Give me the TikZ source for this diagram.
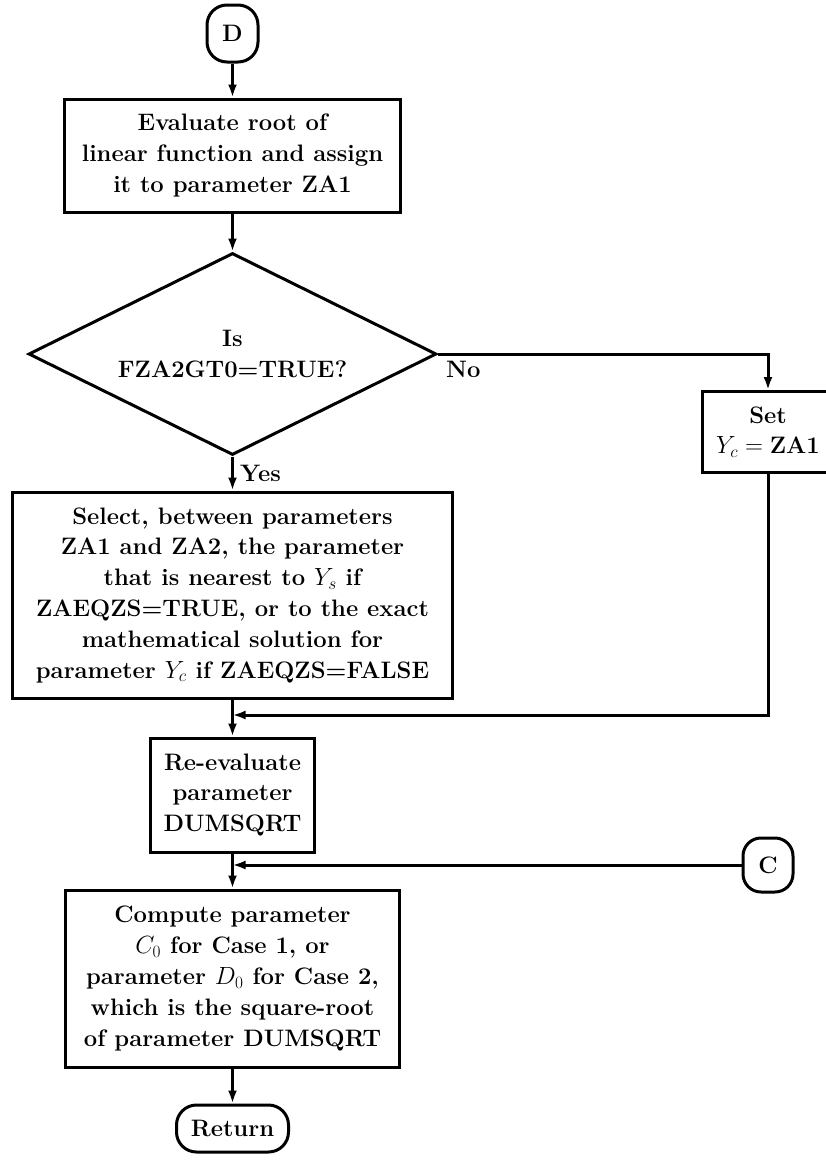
\documentclass[tikz,border=0pt]{standalone}
\usepackage{fontspec}
\usetikzlibrary{shapes.geometric,arrows.meta}
\begin{document}
\begin{tikzpicture}[x=1pt,y=-1pt,
  every node/.style={font=\fontsize{23.8}{30.8}\selectfont\bfseries},
  box/.style={draw,line width=3pt,rectangle,align=center,inner sep=0pt},
  term/.style={draw,line width=3pt,rectangle,rounded corners=20pt,align=center,inner sep=0pt},
  dec/.style={draw,line width=3pt,diamond,aspect=2.02,align=center,inner sep=0pt},
  flow/.style={line width=3pt,-{Latex[length=13pt,width=9pt]}},
  lbl/.style={inner sep=0pt,anchor=west}]
\useasboundingbox (0,0) rectangle (826,1160);
\clip (0,0) rectangle (826,1160);
\node[term,minimum width=51pt,minimum height=57pt] (d) at (232.5,33.5) {D};
\node[box,minimum width=336pt,minimum height=113pt] (b1) at (232.5,155.5)
  {Evaluate root of\\linear function and assign\\it to parameter ZA1};
\node[dec,minimum width=408pt,minimum height=202pt] (dia) at (232.5,354)
  {Is\\FZA2GT0=TRUE?};
\node[box,minimum width=132pt,minimum height=81pt] (set) at (768,432)
  {Set\\$Y_c=\textbf{ZA1}$};
\node[box,minimum width=440pt,minimum height=206pt] (sel) at (232.5,595)
  {Select, between parameters\\ZA1 and ZA2, the parameter\\that is nearest to $Y_s$ if\\ZAEQZS=TRUE, or to the exact\\mathematical solution for\\parameter $Y_c$ if ZAEQZS=FALSE};
\node[box,minimum width=164pt,minimum height=114pt] (re) at (232.5,795)
  {Re-evaluate\\parameter\\DUMSQRT};
\node[term,rounded corners=18pt,minimum width=50pt,minimum height=54pt] (c) at (768,865) {C};
\node[box,minimum width=334pt,minimum height=177pt] (comp) at (232.5,978.5)
  {Compute parameter\\$C_0$ for Case 1, or\\parameter $D_0$ for Case 2,\\which is the square-root\\of parameter DUMSQRT};
\node[term,minimum width=112pt,minimum height=47pt] (ret) at (232.5,1128.5) {Return};
\coordinate (m1) at (232.5,715);
\coordinate (m2) at (232.5,865);
\draw[flow] (d) -- (b1);
\draw[flow] (b1) -- (dia);
\draw[flow] (dia.east) -| (set.north);
\node[lbl] (no) at (446,369) {No};
\draw[flow] (dia.south) -- (sel.north);
\node[lbl] (yes) at (240,473) {Yes};
\draw[flow] (sel.south) -- (re.north);
\draw[flow] (set.south) |- (m1);
\draw[flow] (re.south) -- (comp.north);
\draw[flow] (c.west) -- (m2);
\draw[flow] (comp.south) -- (ret.north);
\end{tikzpicture}
\end{document}
